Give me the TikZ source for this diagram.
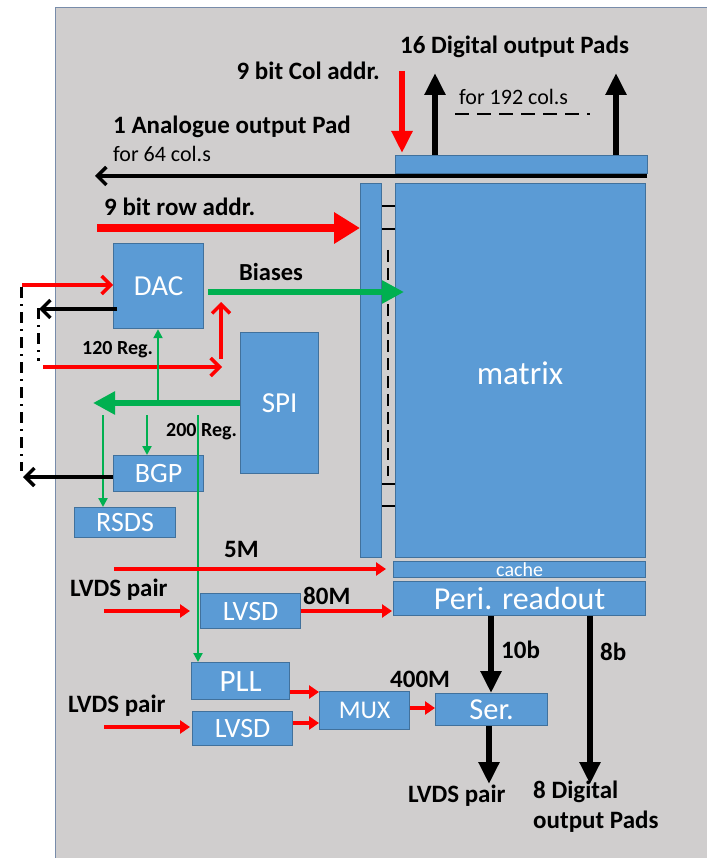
\documentclass[tikz,border=0pt]{standalone}
\usepackage{fontspec}
\setmainfont{Carlito}
\usetikzlibrary{arrows.meta}
\definecolor{bgc}{RGB}{208,206,206}
\definecolor{bgedge}{RGB}{120,140,170}
\definecolor{boxblue}{RGB}{91,155,213}
\definecolor{boxedge}{RGB}{65,113,156}
\definecolor{grn}{RGB}{0,176,80}
\definecolor{rd}{RGB}{255,0,0}
\begin{document}
\begin{tikzpicture}[x=1pt,y=-1pt,
  blk/.style={draw=boxedge, fill=boxblue, line width=1.2pt, text=white, inner sep=0pt, anchor=north west},
  hlbl/.style={font=\bfseries\fontsize{25}{27}\selectfont, inner sep=0pt, anchor=west},
  blbl/.style={font=\bfseries\fontsize{25}{27}\selectfont, inner sep=0pt, anchor=west},
  slbl/.style={font=\bfseries\fontsize{20}{22}\selectfont, inner sep=0pt, anchor=west},
  ntxt/.style={font=\fontsize{22}{24}\selectfont, inner sep=0pt, anchor=west},
  bigred/.style={draw=rd, line width=8pt, -{Triangle[length=26pt,width=30pt]}},
  colred/.style={draw=rd, line width=6pt, -{Triangle[length=22pt,width=20pt]}},
  barbred/.style={draw=rd, line width=3.5pt, -{Straight Barb[length=9pt,width=18pt,line width=3.5pt]}},
  barbblk/.style={draw=black, line width=3.5pt, -{Straight Barb[length=9pt,width=18pt,line width=3.5pt]}},
  smred/.style={draw=rd, line width=4pt, -{Triangle[length=10pt,width=13pt]}},
  bigblk/.style={draw=black, line width=6pt, -{Triangle[length=22pt,width=20pt]}},
  thkgrn/.style={draw=grn, line width=6pt, -{Triangle[length=22pt,width=22pt]}},
  thngrn/.style={draw=grn, line width=2.2pt, -{Triangle[length=9pt,width=9pt]}},
  dashdot/.style={draw=black, line width=3pt, dash pattern=on 11pt off 6pt on 2pt off 6pt},
  tick/.style={draw=black, line width=2.5pt}
]
\useasboundingbox (0,0) rectangle (706,858);
\fill[white] (0,0) rectangle (706,858);
\filldraw[fill=bgc, draw=bgedge, line width=1pt] (55,8) rectangle (712,864);

% ---------- blocks ----------
\node[blk, minimum width=252pt, minimum height=18pt] (topbar) at (395,155) {};
\node[blk, minimum width=21pt, minimum height=374pt] (rowbar) at (360,183) {};
\node[blk, minimum width=250pt, minimum height=374pt] (matrix) at (395,183) {};
\node[text=white, font=\fontsize{33}{35}\selectfont, inner sep=0pt] (matrixlbl) at (520,373) {matrix};
\node[blk, minimum width=90pt, minimum height=85pt, font=\fontsize{29}{31}\selectfont] (dac) at (113,243) {DAC};
\node[blk, minimum width=78pt, minimum height=141pt, font=\fontsize{29}{31}\selectfont] (spi) at (240,332) {SPI};
\node[blk, minimum width=90pt, minimum height=36pt, font=\fontsize{28}{30}\selectfont] (bgp) at (113,455) {BGP};
\node[blk, minimum width=101pt, minimum height=30pt, font=\fontsize{28}{30}\selectfont] (rsds) at (74,507) {RSDS};
\node[blk, minimum width=252pt, minimum height=16pt, font=\fontsize{20}{22}\selectfont] (cache) at (393,561) {cache};
\node[blk, minimum width=252pt, minimum height=34pt, font=\fontsize{32}{34}\selectfont] (peri) at (393,581) {Peri. readout};
\node[blk, minimum width=100pt, minimum height=35pt, font=\fontsize{28}{30}\selectfont] (lvsda) at (200,593) {LVSD};
\node[blk, minimum width=98pt, minimum height=37pt, font=\fontsize{31}{33}\selectfont] (pll) at (191,662) {PLL};
\node[blk, minimum width=100pt, minimum height=34pt, font=\fontsize{28}{30}\selectfont] (lvsdb) at (192,711) {LVSD};
\node[blk, minimum width=90pt, minimum height=38pt, font=\fontsize{25.5}{27}\selectfont] (mux) at (319,691) {MUX};
\node[blk, minimum width=112pt, minimum height=32pt, font=\fontsize{30.5}{32}\selectfont] (ser) at (435,693) {Ser.};

% ---------- labels ----------
\node[hlbl] (t16) at (400,47) {16 Digital output Pads};
\node[hlbl, anchor=east] (tcol) at (380,71) {9 bit Col addr.};
\node[ntxt] (t192) at (459,97) {for 192 col.s};
\node[hlbl] (tana) at (113,127) {1 Analogue output Pad};
\node[ntxt] (t64) at (113,154) {for 64 col.s};
\node[hlbl] (trow) at (104,207) {9 bit row addr.};
\node[font=\bfseries\fontsize{24.5}{26}\selectfont, inner sep=0pt, anchor=west] (tbias) at (239,272) {Biases};
\node[slbl] (t120) at (82,350) {120 Reg.};
\node[slbl] (t200) at (166,432) {200 Reg.};
\node[blbl] (t5m) at (224,549) {5M};
\node[blbl] (tlvdsa) at (70,590) {LVDS pair};
\node[blbl] (t80m) at (303,596) {80M};
\node[blbl] (t10b) at (501,650) {10b};
\node[blbl] (t8b) at (600,652) {8b};
\node[blbl] (t400m) at (390,679) {400M};
\node[blbl] (tlvdsb) at (68,706) {LVDS pair};
\node[blbl] (tlvdsc) at (408,796) {LVDS pair};
\node[blbl, align=left, anchor=north west, font=\bfseries\fontsize{25}{30}\selectfont] (t8dig) at (533,781) {8 Digital\\output Pads};

% ---------- coordinates ----------
\coordinate (colS) at (402,71);
\coordinate (dupA) at (435,73);
\coordinate (dupB) at (616,73);
\coordinate (dashA) at (455,114);
\coordinate (dashB) at (590,114);
\coordinate (anaS) at (647,176);
\coordinate (anaE) at (95,176);
\coordinate (rowS) at (97,228);
\coordinate (tk1) at (0,206);
\coordinate (tk2) at (0,229);
\coordinate (tk3) at (0,484);
\coordinate (tk4) at (0,506);
\coordinate (vdA) at (388,250);
\coordinate (vdB) at (388,476);
\coordinate (biasS) at (208,292);
\coordinate (biasE) at (404,292);
\coordinate (dacInS) at (22,285);
\coordinate (dacOutE) at (39,309);
\coordinate (ddA) at (21,287);
\coordinate (ddB) at (21,471);
\coordinate (ddC) at (38,308);
\coordinate (ddD) at (38,361);
\coordinate (r120S) at (43,367);
\coordinate (r120E) at (222,367);
\coordinate (rupS) at (221,359);
\coordinate (rupE) at (221,302);
\coordinate (spiE) at (93,403);
\coordinate (gj1) at (158,403);
\coordinate (gb) at (147,415);
\coordinate (gr) at (103,415);
\coordinate (gp) at (198,415);
\coordinate (bgpE) at (23,477);
\coordinate (f5S) at (114,569);
\coordinate (f5E) at (386,569);
\coordinate (lvaS) at (104,611);
\coordinate (lvaE) at (190,611);
\coordinate (m80E) at (392,611);
\coordinate (b10) at (491,616);
\coordinate (b8S) at (590,616);
\coordinate (b8E) at (590,784);
\coordinate (lvbS) at (104,727);
\coordinate (lvbE) at (190,727);
\coordinate (serE) at (489,784);
\coordinate (pmY) at (0,692);
\coordinate (lmY) at (0,723);
\coordinate (msY) at (0,708);

% ---------- connectors ----------
\draw[colred] (colS) -- ([yshift=2pt]colS |- topbar.north);
\draw[bigblk] (topbar.north -| dupA) -- (dupA);
\draw[bigblk] (topbar.north -| dupB) -- (dupB);
\draw[line width=2pt, dash pattern=on 14pt off 8pt] (dashA) -- (dashB);
\draw[barbblk] (anaS) -- (anaE);
\draw[bigred] (rowS) -- (rowS -| rowbar.west);
\foreach \t in {tk1,tk2,tk3,tk4} \draw[tick] (rowbar.east |- \t) -- (matrix.west |- \t);
\draw[line width=2pt, dash pattern=on 12pt off 6pt] (vdA) -- (vdB);
\draw[thkgrn] (biasS) -- (biasE);
\draw[barbred] (dacInS) -- (dacInS -| dac.west);
\draw[barbblk] ([xshift=4pt]dacOutE -| dac.west) -- (dacOutE);
\draw[dashdot] (ddA) -- (ddB);
\draw[dashdot] (ddC) -- (ddD);
\draw[barbred] (r120S) -- (r120E);
\draw[barbred] (rupS) -- (rupE);
\draw[thkgrn] (spiE -| spi.west) -- (spiE);
\draw[thngrn] (gj1) -- (dac.south -| gj1);
\draw[thngrn] (gb) -- (bgp.north -| gb);
\draw[thngrn] (gr) -- (rsds.north -| gr);
\draw[thngrn] (gp) -- (pll.north -| gp);
\draw[barbblk] (bgpE -| bgp.west) -- (bgpE);
\draw[smred] (f5S) -- (f5E);
\draw[smred] (lvaS) -- (lvaE);
\draw[smred] (lvaE -| lvsda.east) -- (m80E);
\draw[bigblk] (b10 |- peri.south) -- (b10 |- ser.north);
\draw[bigblk] (b8S |- peri.south) -- (b8E);
\draw[smred] (pll.east |- pmY) -- (mux.west |- pmY);
\draw[smred] (lvsdb.east |- lmY) -- (mux.west |- lmY);
\draw[smred] (mux.east |- msY) -- (ser.west |- msY);
\draw[smred] (lvbS) -- (lvbE);
\draw[bigblk] (ser.south -| serE) -- (serE);
\end{tikzpicture}
\end{document}
